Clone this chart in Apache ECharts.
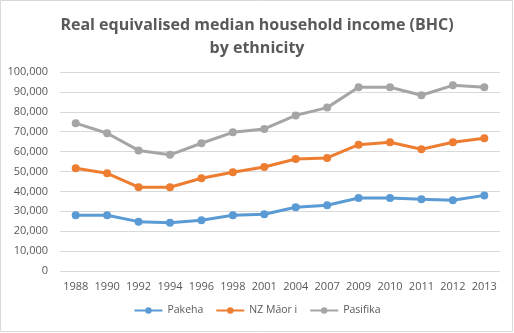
<!DOCTYPE html>
<html><head><meta charset="utf-8">
<script src="https://cdn.jsdelivr.net/npm/echarts@6/dist/echarts.min.js"></script>
<style>html,body{margin:0;padding:0;background:#fff}#c{width:514px;height:333px}</style>
</head><body><div id="c"></div>
<script>
const years = ['1988','1990','1992','1994','1996','1998','2001','2004','2007','2009','2010','2011','2012','2013'];
const pakeha = [28000,28000,24800,24300,25500,28000,28500,32000,33000,36700,36700,36000,35500,38000];
const maori = [51600,49100,42100,42100,46600,49600,52300,56300,56800,63500,64700,61200,64700,66700];
const pasifika = [74300,69200,60600,58400,64200,69700,71400,78200,82100,92300,92300,88300,93300,92300];
const names = ['Pakeha','NZ Māor i','Pasifika'];
const colors = ['#5b9bd5','#ed7d31','#a5a5a5'];
const font = "'Open Sans', 'Liberation Sans', sans-serif";
const chart = echarts.init(document.getElementById('c'));
const mk = (name, data, color) => ({
  name, type:'line', data, color, symbol:'circle', symbolSize:8,
  lineStyle:{width:3, color}, itemStyle:{color}
});
chart.setOption({
  animation:false,
  textStyle:{fontFamily:font},
  title:{text:'Real equivalised median household income (BHC)\nby ethnicity', left:'center', top:9,
    textStyle:{fontSize:16, fontWeight:'bold', color:'#595959', lineHeight:23, fontFamily:font}},
  graphic:[{type:'rect', shape:{x:0.5,y:0.5,width:512,height:331}, style:{fill:null, stroke:'#d9d9d9', lineWidth:1}, silent:true}],
  grid:{left:60, right:14, top:72, bottom:62},
  legend:{bottom:12, left:'center', itemWidth:28, itemHeight:8, itemGap:12,
    textStyle:{color:'#595959', fontSize:10.5}, data:names},
  xAxis:{type:'category', data:years, boundaryGap:true,
    axisLine:{show:false}, axisTick:{show:false},
    axisLabel:{color:'#595959', fontSize:11, margin:10, interval:0}},
  yAxis:{type:'value', min:0, max:100000, interval:10000,
    axisLine:{show:false}, axisTick:{show:false},
    splitLine:{lineStyle:{color:'#d9d9d9', width:1}},
    axisLabel:{color:'#595959', fontSize:11, margin:12,
      formatter:v=>v.toLocaleString('en-US')}},
  series:[mk(names[0],pakeha,colors[0]), mk(names[1],maori,colors[1]), mk(names[2],pasifika,colors[2])]
});
</script></body></html>
